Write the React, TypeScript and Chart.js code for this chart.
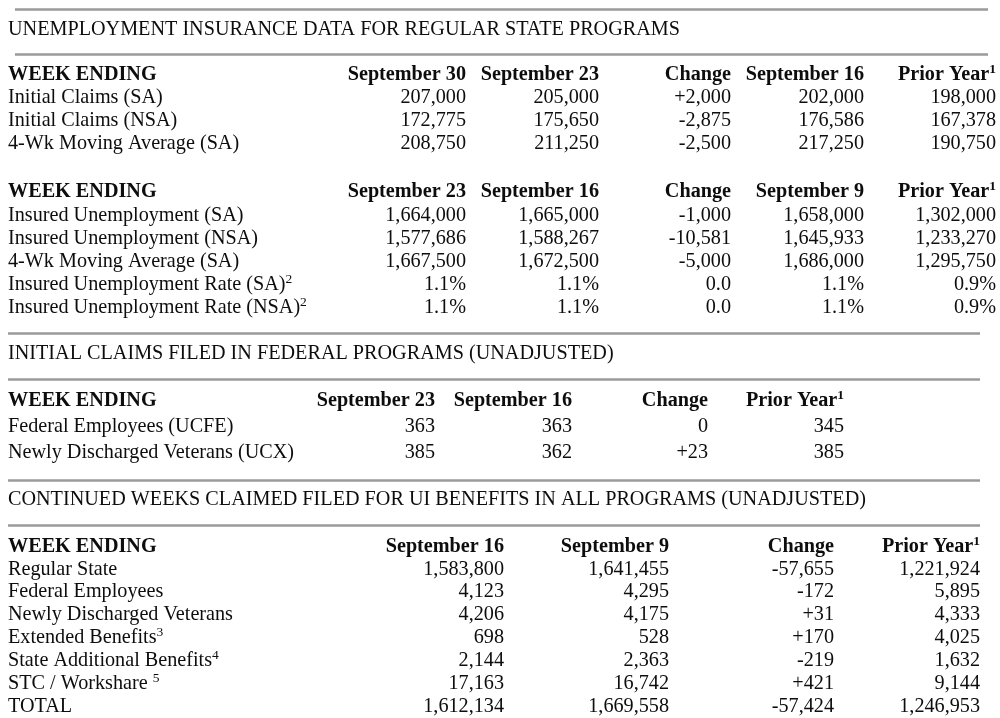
import React, { useEffect, useRef } from "react";
import { Chart, registerables } from "chart.js";

Chart.register(...registerables);

// ---------- DATA ----------
const title1 = "UNEMPLOYMENT INSURANCE DATA FOR REGULAR STATE PROGRAMS";
const title3 = "INITIAL CLAIMS FILED IN FEDERAL PROGRAMS (UNADJUSTED)";
const title4 = "CONTINUED WEEKS CLAIMED FILED FOR UI BENEFITS IN ALL PROGRAMS (UNADJUSTED)";

const weekEnding = "WEEK ENDING";
const priorYear = "Prior Year";
const change = "Change";

// Section A: initial claims (regular state)
const headersA = ["September 30", "September 23", change, "September 16", priorYear];
const labelsA = ["Initial Claims (SA)", "Initial Claims (NSA)", "4-Wk Moving Average (SA)"];
const supsA = ["", "", ""];
const curA = ["207,000", "172,775", "208,750"];
const prevA = ["205,000", "175,650", "211,250"];
const chgA = ["+2,000", "-2,875", "-2,500"];
const prev2A = ["202,000", "176,586", "217,250"];
const pyA = ["198,000", "167,378", "190,750"];

// Section B: insured unemployment (regular state)
const headersB = ["September 23", "September 16", change, "September 9", priorYear];
const labelsB = [
  "Insured Unemployment (SA)",
  "Insured Unemployment (NSA)",
  "4-Wk Moving Average (SA)",
  "Insured Unemployment Rate (SA)",
  "Insured Unemployment Rate (NSA)",
];
const supsB = ["", "", "", "2", "2"];
const curB = ["1,664,000", "1,577,686", "1,667,500", "1.1%", "1.1%"];
const prevB = ["1,665,000", "1,588,267", "1,672,500", "1.1%", "1.1%"];
const chgB = ["-1,000", "-10,581", "-5,000", "0.0", "0.0"];
const prev2B = ["1,658,000", "1,645,933", "1,686,000", "1.1%", "1.1%"];
const pyB = ["1,302,000", "1,233,270", "1,295,750", "0.9%", "0.9%"];

// Section C: federal programs initial claims
const headersC = ["September 23", "September 16", change, priorYear];
const labelsC = ["Federal Employees (UCFE)", "Newly Discharged Veterans (UCX)"];
const supsC = ["", ""];
const curC = ["363", "385"];
const prevC = ["363", "362"];
const chgC = ["0", "+23"];
const pyC = ["345", "385"];

// Section D: continued weeks claimed, all programs
const headersD = ["September 16", "September 9", change, priorYear];
const labelsD = [
  "Regular State",
  "Federal Employees",
  "Newly Discharged Veterans",
  "Extended Benefits",
  "State Additional Benefits",
  "STC / Workshare ",
  "TOTAL",
];
const supsD = ["", "", "", "3", "4", "5", ""];
const curD = ["1,583,800", "4,123", "4,206", "698", "2,144", "17,163", "1,612,134"];
const prevD = ["1,641,455", "4,295", "4,175", "528", "2,363", "16,742", "1,669,558"];
const chgD = ["-57,655", "-172", "+31", "+170", "-219", "+421", "-57,424"];
const pyD = ["1,221,924", "5,895", "4,333", "4,025", "1,632", "9,144", "1,246,953"];

// ---------- DRAWING ----------
const FONT = "'Liberation Serif', 'Times New Roman', serif";
const INK = "#0d0d0d";
const RULE = "#9a9a9a";

type Sec = {
  headers: string[];
  headerSups: string[];
  labels: string[];
  sups: string[];
  cols: string[][];
  rights: number[];
  headerY: number;
  rowY0: number;
  rowStep: number;
};

function App() {
  const ref = useRef<HTMLCanvasElement | null>(null);

  useEffect(() => {
    if (!ref.current) return;

    const sections: Sec[] = [
      {
        headers: headersA,
        headerSups: ["", "", "", "", "1"],
        labels: labelsA,
        sups: supsA,
        cols: [curA, prevA, chgA, prev2A, pyA],
        rights: [466, 599, 731, 864, 996],
        headerY: 80,
        rowY0: 103,
        rowStep: 23,
      },
      {
        headers: headersB,
        headerSups: ["", "", "", "", "1"],
        labels: labelsB,
        sups: supsB,
        cols: [curB, prevB, chgB, prev2B, pyB],
        rights: [466, 599, 731, 864, 996],
        headerY: 197,
        rowY0: 221,
        rowStep: 23,
      },
      {
        headers: headersC,
        headerSups: ["", "", "", "1"],
        labels: labelsC,
        sups: supsC,
        cols: [curC, prevC, chgC, pyC],
        rights: [435, 572, 708, 844],
        headerY: 406,
        rowY0: 431.5,
        rowStep: 26,
      },
      {
        headers: headersD,
        headerSups: ["", "", "", "1"],
        labels: labelsD,
        sups: supsD,
        cols: [curD, prevD, chgD, pyD],
        rights: [504, 669, 834, 980],
        headerY: 551.5,
        rowY0: 574.5,
        rowStep: 22.9,
      },
    ];

    const titles = [
      { text: title1, y: 34.5 },
      { text: title3, y: 359 },
      { text: title4, y: 505 },
    ];

    const rules = [
      { x0: 15, x1: 988, y: 9.5 },
      { x0: 15, x1: 988, y: 54.5 },
      { x0: 8, x1: 980, y: 333.5 },
      { x0: 8, x1: 980, y: 379.5 },
      { x0: 8, x1: 980, y: 480.5 },
      { x0: 8, x1: 980, y: 525.5 },
    ];

    const tablePlugin = {
      id: "tablePlugin",
      beforeDraw(chart: any) {
        const c = chart.ctx as CanvasRenderingContext2D;
        c.save();
        c.fillStyle = "#ffffff";
        c.fillRect(0, 0, chart.width, chart.height);
        c.restore();
      },
      afterDraw(chart: any) {
        const c = chart.ctx as CanvasRenderingContext2D;
        const sx = chart.scales.x;
        const sy = chart.scales.y;
        const X = (v: number) => sx.getPixelForValue(v);
        const Y = (v: number) => sy.getPixelForValue(v);

        const size = 20.2;
        const supSize = 13.5;
        const supRise = 7;

        const drawCell = (
          text: string,
          sup: string,
          x: number,
          y: number,
          align: "left" | "right",
          bold: boolean
        ) => {
          const w = bold ? "bold " : "";
          c.fillStyle = INK;
          c.textBaseline = "alphabetic";
          c.font = `${w}${supSize}px ${FONT}`;
          const supW = sup ? c.measureText(sup).width : 0;
          c.font = `${w}${size}px ${FONT}`;
          const mainW = c.measureText(text).width;
          const left = align === "left" ? X(x) : X(x) - supW - mainW;
          c.textAlign = "left";
          c.fillText(text, left, Y(y));
          if (sup) {
            c.font = `${w}${supSize}px ${FONT}`;
            c.fillText(sup, left + mainW, Y(y) - supRise);
          }
        };

        c.save();
        // rules
        c.strokeStyle = RULE;
        c.lineWidth = 2.6;
        rules.forEach((r) => {
          c.beginPath();
          c.moveTo(X(r.x0), Y(r.y));
          c.lineTo(X(r.x1), Y(r.y));
          c.stroke();
        });

        // titles
        titles.forEach((t) => drawCell(t.text, "", 8, t.y, "left", false));

        // sections
        sections.forEach((s) => {
          drawCell(weekEnding, "", 8, s.headerY, "left", true);
          s.headers.forEach((h, i) =>
            drawCell(h, s.headerSups[i], s.rights[i], s.headerY, "right", true)
          );
          s.labels.forEach((lab, r) => {
            const y = s.rowY0 + r * s.rowStep;
            drawCell(lab, s.sups[r], 8, y, "left", false);
            s.cols.forEach((col, ci) =>
              drawCell(col[r], "", s.rights[ci], y, "right", false)
            );
          });
        });
        c.restore();
      },
    };

    const chart = new Chart(ref.current, {
      type: "scatter",
      data: { datasets: [{ data: [], showLine: false }] },
      options: {
        responsive: false,
        animation: false,
        events: [],
        layout: { padding: 0 },
        plugins: { legend: { display: false }, tooltip: { enabled: false } },
        scales: {
          x: { type: "linear", min: 0, max: 1000, display: false },
          y: { type: "linear", min: 0, max: 718, reverse: true, display: false },
        },
      },
      plugins: [tablePlugin],
    });

    return () => chart.destroy();
  }, []);

  return (
    <div style={{ position: "absolute", left: 0, top: 0, width: 1000, height: 718, background: "#fff" }}>
      <canvas ref={ref} width={1000} height={718} style={{ display: "block", width: 1000, height: 718 }} />
    </div>
  );
}

export default App;
